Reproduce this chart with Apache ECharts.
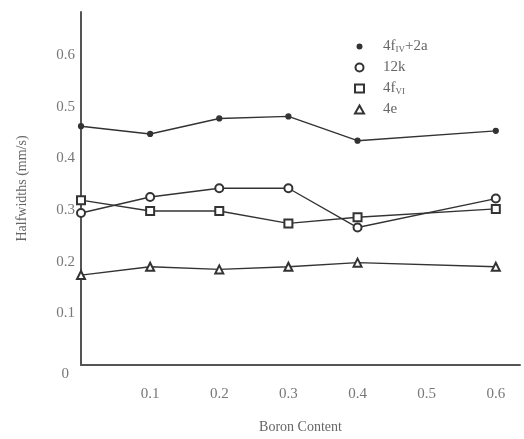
<!DOCTYPE html>
<html>
<head>
<meta charset="utf-8">
<script src="https://cdn.jsdelivr.net/npm/echarts@6/dist/echarts.min.js"></script>
<style>
  html, body { margin: 0; padding: 0; background: #fff; }
  #main { width: 524px; height: 439px; }
</style>
</head>
<body>
<div id="main"></div>
<script>
// boron content (x)
var boron = [0, 0.1, 0.2, 0.3, 0.4, 0.6];
// halfwidths (mm/s) per site
var site4fIV2a = [0.462, 0.447, 0.477, 0.481, 0.434, 0.453];
var site12k    = [0.294, 0.325, 0.342, 0.342, 0.266, 0.322];
var site4fVI   = [0.319, 0.298, 0.298, 0.274, 0.286, 0.302];
var site4e     = [0.174, 0.190, 0.185, 0.190, 0.198, 0.190];
var names = ['4fIV+2a', '12k', '4fVI', '4e'];
var legendText = {
    '4fIV+2a': '{a|4f}{s|IV}{a|+2a}',
    '12k': '{a|12k}',
    '4fVI': '{a|4f}{s|VI}',
    '4e': '{a|4e}'
};

function pairs(ys) {
    return boron.map(function (x, i) { return [x, ys[i]]; });
}

window.onload = function () {
    var myChart = echarts.init(document.getElementById('main'));
    var font = 'Liberation Serif';
    var ink = '#333';

    function mkSeries(name, ys, symbol, size) {
        return {
            name: name,
            type: 'line',
            data: pairs(ys),
            symbol: symbol,
            symbolSize: size,
            showAllSymbol: true,
            lineStyle: { color: ink, width: 1.4 },
            itemStyle: { color: ink, borderColor: ink, borderWidth: 1.2 }
        };
    }

    var option = {
        backgroundColor: '#fff',
        animation: false,
        textStyle: { fontFamily: font },
        grid: { left: 81, right: 4, top: 12, bottom: 74 },
        legend: {
            orient: 'vertical',
            left: 349,
            top: 34,
            itemGap: 6,
            itemWidth: 9,
            itemHeight: 8,
            data: [
                { name: names[0], icon: 'circle', itemStyle: { color: ink, borderColor: '#fff', borderWidth: 2 } },
                { name: names[1], icon: 'emptyCircle', itemStyle: { color: ink, borderColor: ink, borderWidth: 1.2 } },
                { name: names[2], icon: 'emptyRect', itemStyle: { color: ink, borderColor: ink, borderWidth: 1.2 } },
                { name: names[3], icon: 'emptyTriangle', itemStyle: { color: ink, borderColor: ink, borderWidth: 1.2 } }
            ],
            formatter: function (n) { return legendText[n]; },
            textStyle: {
                color: '#666',
                padding: [0, 0, 0, 14],
                rich: {
                    a: { fontFamily: font, fontSize: 15, color: '#666' },
                    s: { fontFamily: font, fontSize: 9, color: '#666', verticalAlign: 'bottom', padding: [6, 0, 0, 0] }
                }
            }
        },
        xAxis: {
            type: 'value',
            min: 0,
            max: 0.635,
            interval: 0.1,
            name: 'Boron Content',
            nameLocation: 'middle',
            nameGap: 55,
            nameTextStyle: { color: '#666', fontSize: 14, fontFamily: font },
            axisLine: { show: true, lineStyle: { color: '#555', width: 2 } },
            axisTick: { show: false },
            splitLine: { show: false },
            axisLabel: {
                color: '#777',
                fontSize: 15,
                margin: 22,
                showMaxLabel: false,
                formatter: function (v) { return v === 0 ? '' : v.toFixed(1); }
            }
        },
        yAxis: {
            type: 'value',
            min: 0,
            max: 0.683,
            interval: 0.1,
            name: 'Halfwidths (mm/s)',
            nameLocation: 'middle',
            nameRotate: 90,
            nameGap: 52,
            nameTextStyle: { color: '#666', fontSize: 14, fontFamily: font },
            axisLine: { show: true, lineStyle: { color: '#555', width: 2 } },
            axisTick: { show: false },
            splitLine: { show: false },
            axisLabel: {
                color: '#777',
                fontSize: 15,
                margin: 6,
                showMaxLabel: false,
                formatter: function (v) { return v === 0 ? '{z|0}' : v.toFixed(1); },
                rich: { z: { fontSize: 15, color: '#777', fontFamily: font, padding: [18, 6, 0, 0] } }
            }
        },
        series: [
            mkSeries(names[0], site4fIV2a, 'circle', 5),
            mkSeries(names[1], site12k, 'emptyCircle', 8),
            mkSeries(names[2], site4fVI, 'emptyRect', 8),
            mkSeries(names[3], site4e, 'emptyTriangle', 8)
        ]
    };

    myChart.setOption(option);
    window.addEventListener('resize', function () {
        myChart.resize();
    });
};
</script>
</body>
</html>
